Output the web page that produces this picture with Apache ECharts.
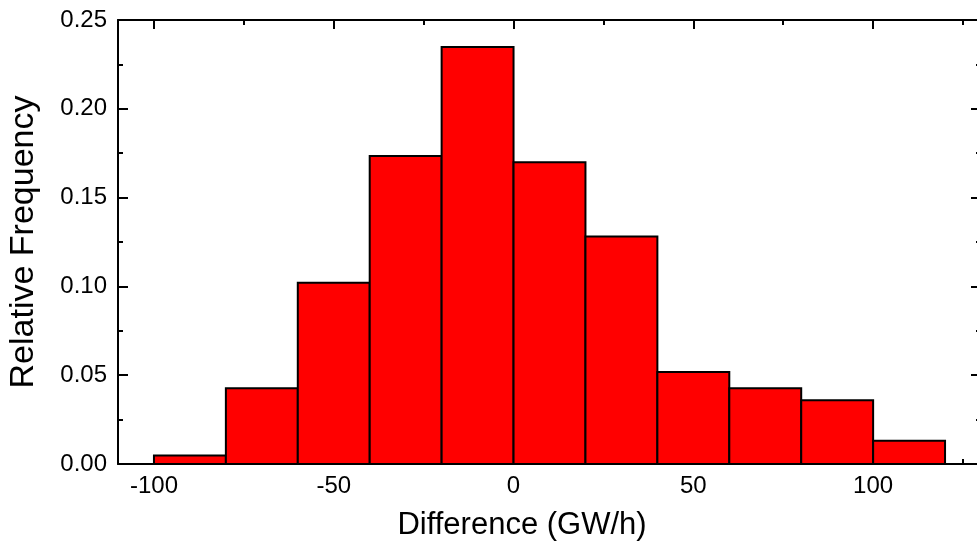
<!DOCTYPE html>
<html>
<head>
<meta charset="utf-8">
<script src="https://cdn.jsdelivr.net/npm/echarts@6/dist/echarts.min.js"></script>
<style>
html,body{margin:0;padding:0;background:#fff;}
#chart{width:977px;height:541px;}
</style>
</head>
<body>
<div id="chart"></div>
<script>
// ---- data ----
const binStart = [-100, -80, -60, -40, -20, 0, 20, 40, 60, 80, 100];
const binEnd   = [-80, -60, -40, -20, 0, 20, 40, 60, 80, 100, 120];
const frequency = [0.0048, 0.0426, 0.1021, 0.1734, 0.2348, 0.1699, 0.1281, 0.0518, 0.0426, 0.0359, 0.0131];
const xMajorTicks = [-100, -50, 0, 50, 100];
const xMinorTicks = [-75, -25, 25, 75, 125];
const xTitle = 'Difference (GW/h)';
const yTitle = 'Relative Frequency';

const FONT = "'Liberation Sans', Arial, sans-serif";
const data = binStart.map((s, i) => [s, binEnd[i], frequency[i]]);

const chart = echarts.init(document.getElementById('chart'), null, {renderer: 'canvas'});

function xAxisCfg(pos, values, len, showLine, labels) {
  return {
    type: 'value', position: pos, min: -110, max: 130,
    axisLine: {show: showLine, onZero: false, lineStyle: {color: '#000', width: 2}},
    axisTick: {show: true, inside: true, length: len, customValues: values, lineStyle: {color: '#000', width: 2}},
    axisLabel: labels ? {show: true, customValues: values, margin: 10, color: '#000', fontSize: 24, fontFamily: FONT,
                formatter: v => String(v)} : {show: false},
    splitLine: {show: false}
  };
}

const xAxes = [
  Object.assign(xAxisCfg('bottom', xMajorTicks, 9, true, true), {
    name: xTitle, nameLocation: 'middle', nameGap: 46,
    nameTextStyle: {color: '#000', fontSize: 31, fontFamily: FONT, padding: [0, 55, 0, 0]}
  }),
  xAxisCfg('bottom', xMinorTicks, 5, false, false),
  xAxisCfg('top', xMajorTicks, 9, true, false),
  xAxisCfg('top', xMinorTicks, 5, false, false)
];

function yAxisCfg(pos, labels) {
  return {
    type: 'value', position: pos, min: 0, max: 0.25, interval: 0.05,
    axisLine: {show: true, onZero: false, lineStyle: {color: '#000', width: 2}},
    axisTick: {show: true, inside: true, length: 10, lineStyle: {color: '#000', width: 2}},
    minorTick: {show: true, splitNumber: 2, length: 5, lineStyle: {color: '#000', width: 2}},
    axisLabel: labels ? {show: true, margin: 11, color: '#000', fontSize: 24, fontFamily: FONT,
                formatter: v => v.toFixed(2)} : {show: false},
    splitLine: {show: false}
  };
}

const yAxes = [
  Object.assign(yAxisCfg('left', true), {
    name: yTitle, nameLocation: 'middle', nameGap: 77,
    nameTextStyle: {color: '#000', fontSize: 34, fontFamily: FONT}
  }),
  yAxisCfg('right', false)
];

chart.setOption({
  animation: false,
  backgroundColor: '#fff',
  grid: {left: 118, top: 20, width: 863, height: 444, containLabel: false, outerBoundsMode: 'none'},
  xAxis: xAxes,
  yAxis: yAxes,
  series: [{
    type: 'custom',
    xAxisIndex: 0, yAxisIndex: 0,
    encode: {x: [0, 1], y: 2},
    data: data,
    z: 1,
    renderItem: function (params, api) {
      const p0 = api.coord([api.value(0), api.value(2)]);
      const p1 = api.coord([api.value(1), 0]);
      return {
        type: 'rect',
        shape: {x: p0[0], y: p0[1], width: p1[0] - p0[0], height: p1[1] - p0[1]},
        style: {fill: '#ff0000', stroke: '#000', lineWidth: 2}
      };
    }
  }]
});
</script>
</body>
</html>
